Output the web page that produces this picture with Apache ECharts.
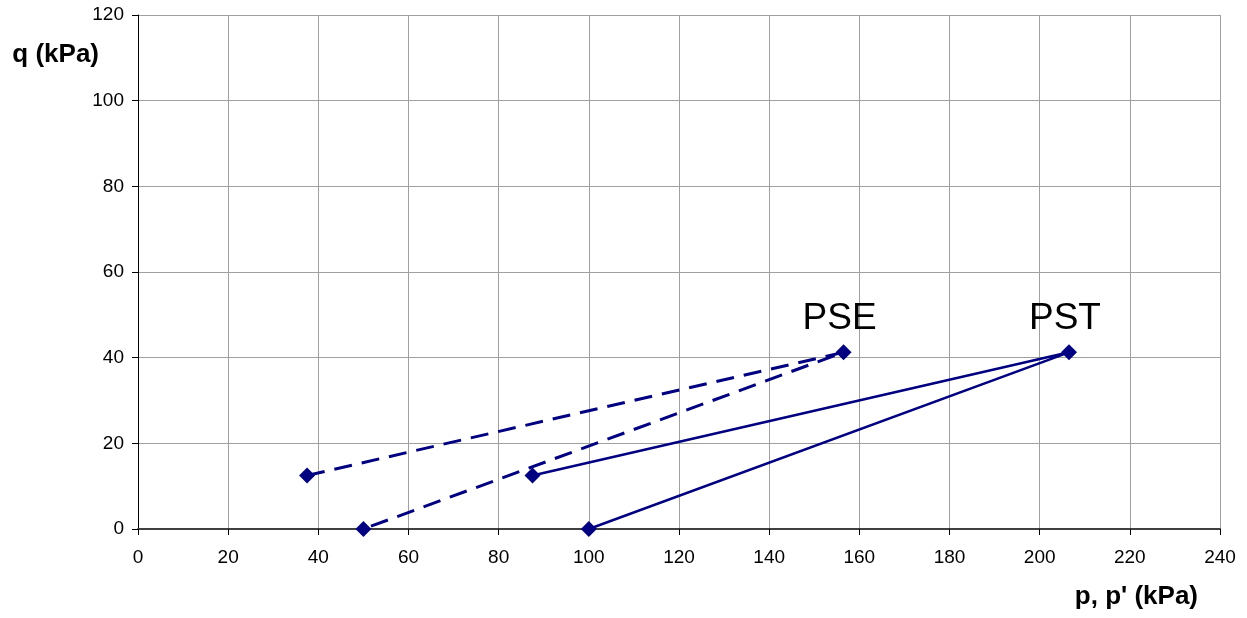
<!DOCTYPE html>
<html>
<head>
<meta charset="utf-8">
<script src="https://cdn.jsdelivr.net/npm/echarts@6/dist/echarts.min.js"></script>
<style>
html,body{margin:0;padding:0;background:#fff;}
#chart{width:1247px;height:618px;}
</style>
</head>
<body>
<div id="chart"></div>
<script>
const pseP = [37.5, 156.5, 50];
const pseQ = [12.5, 41.25, 0];
const pstP = [87.5, 206.5, 100];
const pstQ = [12.5, 41.25, 0];
const xTicks = [0, 20, 40, 60, 80, 100, 120, 140, 160, 180, 200, 220, 240];
const yTicks = [0, 20, 40, 60, 80, 100, 120];
const seriesNames = ['PSE', 'PST'];

const navy = '#000080';
const FONT = 'Liberation Sans, Arial, sans-serif';
function mk(name, P, Q, dashed) {
  return {
    name: name,
    type: 'line',
    data: P.map((p, i) => {
      const item = { value: [p, Q[i]] };
      if (i === 1) {
        item.label = {
          show: true, position: 'top', formatter: name, distance: 7, offset: [-4, 0],
          fontFamily: FONT, fontSize: 37, color: '#000'
        };
      }
      return item;
    }),
    symbol: 'diamond',
    symbolSize: 16,
    itemStyle: { color: navy },
    lineStyle: { color: navy, width: dashed ? 3 : 2.5, type: dashed ? [18, 10] : 'solid' },
    label: { show: false },
    animation: false,
    z: 5
  };
}

const chart = echarts.init(document.getElementById('chart'));
chart.setOption({
  animation: false,
  grid: { left: 138, right: 27, top: 15, bottom: 89, containLabel: false },
  xAxis: {
    type: 'value', min: 0, max: 240, interval: 20,
    axisLine: { show: true, onZero: false, lineStyle: { color: '#404040', width: 2 } },
    axisTick: { show: true, inside: false, length: 6, lineStyle: { color: '#000' } },
    splitLine: { show: true, lineStyle: { color: '#a0a0a0', width: 1 } },
    axisLabel: { color: '#000', fontSize: 19, margin: 19, fontFamily: FONT,
      formatter: v => xTicks.includes(v) ? String(v) : '' },
    name: "p, p' (kPa)",
    nameLocation: 'end',
    nameGap: -22,
    nameTextStyle: { fontSize: 26, fontWeight: 'bold', color: '#000', fontFamily: FONT,
      align: 'right', verticalAlign: 'top', padding: [55, 0, 0, 0] }
  },
  yAxis: {
    type: 'value', min: 0, max: 120, interval: 20,
    axisLine: { show: true, onZero: false, lineStyle: { color: '#000', width: 1 } },
    axisTick: { show: true, inside: false, length: 6, lineStyle: { color: '#000' } },
    splitLine: { show: true, lineStyle: { color: '#a0a0a0', width: 1 } },
    axisLabel: { color: '#000', fontSize: 19, margin: 14, fontFamily: FONT,
      formatter: v => yTicks.includes(v) ? String(v) : '' },
    name: 'q (kPa)',
    nameLocation: 'end',
    nameRotate: 0,
    nameGap: -40,
    nameTextStyle: { fontSize: 26, fontWeight: 'bold', color: '#000', fontFamily: FONT,
      align: 'right', verticalAlign: 'middle', padding: [0, 39, 0, 0] }
  },
  series: [mk(seriesNames[0], pseP, pseQ, true), mk(seriesNames[1], pstP, pstQ, false)]
});
</script>
</body>
</html>
